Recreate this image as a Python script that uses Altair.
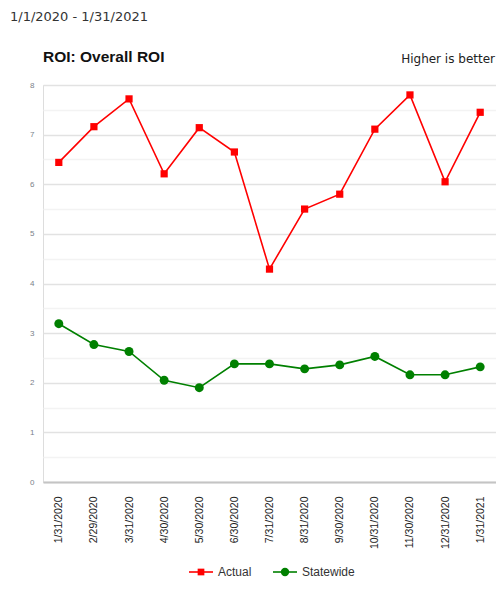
import altair as alt
import pandas as pd

dates = ["1/31/2020", "2/29/2020", "3/31/2020", "4/30/2020", "5/30/2020", "6/30/2020",
         "7/31/2020", "8/31/2020", "9/30/2020", "10/31/2020", "11/30/2020", "12/31/2020",
         "1/31/2021"]
actual = [6.44, 7.16, 7.72, 6.21, 7.14, 6.65, 4.29, 5.50, 5.80, 7.11, 7.80, 6.05, 7.45]
statewide = [3.19, 2.77, 2.63, 2.05, 1.90, 2.38, 2.38, 2.28, 2.36, 2.53, 2.16, 2.16, 2.32]
series = ["Actual", "Statewide"]
colors = ["#ff0000", "#008000"]
y_ticks = [i * 0.5 for i in range(17)]

df = pd.DataFrame({
    "date": dates * 2,
    "value": actual + statewide,
    "series": ["Actual"] * len(dates) + ["Statewide"] * len(dates),
})

FONT = "Liberation Sans"
W, H = 453, 397

x_enc = alt.X("date:N", sort=dates, title=None,
              scale=alt.Scale(padding=0.45),
              axis=alt.Axis(labelAngle=270, labelFont=FONT, labelFontSize=10.5,
                            labelColor="#222222", ticks=False, labelPadding=14,
                            domainColor="#c4c4c4", domainWidth=2, grid=False))
y_enc = alt.Y("value:Q", title=None, scale=alt.Scale(domain=[0, 8], nice=False),
              axis=alt.Axis(values=y_ticks,
                            labelExpr="datum.value % 1 == 0 ? format(datum.value, 'd') : ''",
                            labelFont=FONT, labelFontSize=8, labelColor="#7a7f8a",
                            ticks=False, domain=False, labelPadding=9,
                            gridColor=alt.ExprRef("datum.value % 1 == 0 ? '#e2e2e2' : '#f3f3f3'"),
                            gridWidth=1.5))
color_scale = alt.Scale(domain=series, range=colors)

base = alt.Chart(df)

lines = base.mark_line(strokeWidth=1.6).encode(
    x=x_enc, y=y_enc,
    color=alt.Color("series:N", scale=color_scale, legend=None),
)
pts_actual = base.transform_filter(alt.datum.series == "Actual").mark_point(
    shape="square", filled=True, size=52, opacity=1).encode(
    x=x_enc, y=y_enc, color=alt.Color("series:N", scale=color_scale, legend=None))
pts_state = base.transform_filter(alt.datum.series == "Statewide").mark_point(
    shape="circle", filled=True, size=80, opacity=1).encode(
    x=x_enc, y=y_enc, color=alt.Color("series:N", scale=color_scale, legend=None))

def txt(s, x, y, size, font, color, weight="normal", align="left"):
    return alt.Chart(pd.DataFrame({"t": [s]})).mark_text(
        font=font, fontSize=size, color=color, fontWeight=weight, align=align,
        baseline="middle").encode(text="t:N", x=alt.value(x), y=alt.value(y))

subtitle = txt("1/1/2020 - 1/31/2021", -33, -68, 13, "DejaVu Sans", "#333333")
title = txt("ROI: Overall ROI", 0, -28, 15.5, FONT, "#111111", weight="bold")
note = txt("Higher is better", 452, -26, 12, "DejaVu Sans", "#222222", align="right")

def legend_item(name, color, shape, size, x0):
    d = pd.DataFrame({"t": [name]})
    rule = alt.Chart(d).mark_rule(color=color, strokeWidth=1.6).encode(
        x=alt.value(x0), x2=alt.value(x0 + 24), y=alt.value(487))
    mk = alt.Chart(d).mark_point(shape=shape, filled=True, size=size, opacity=1, color=color).encode(
        x=alt.value(x0 + 12), y=alt.value(487))
    lab = alt.Chart(d).mark_text(font=FONT, fontSize=12, color="#333333", align="left",
                                 baseline="middle").encode(
        text="t:N", x=alt.value(x0 + 29), y=alt.value(487))
    return rule + mk + lab

leg1 = legend_item(series[0], colors[0], "square", 45, 146)
leg2 = legend_item(series[1], colors[1], "circle", 70, 230)

chart = alt.layer(lines, pts_actual, pts_state, subtitle, title, note, leg1, leg2).properties(
    width=W, height=H,
    autosize=alt.AutoSizeParams(type="none"),
    padding={"left": 35, "top": 77, "right": 0, "bottom": 102},
).configure_view(stroke=None).configure(background="white")

chart.save("out.html", embed_options={"renderer": "svg", "actions": False})
